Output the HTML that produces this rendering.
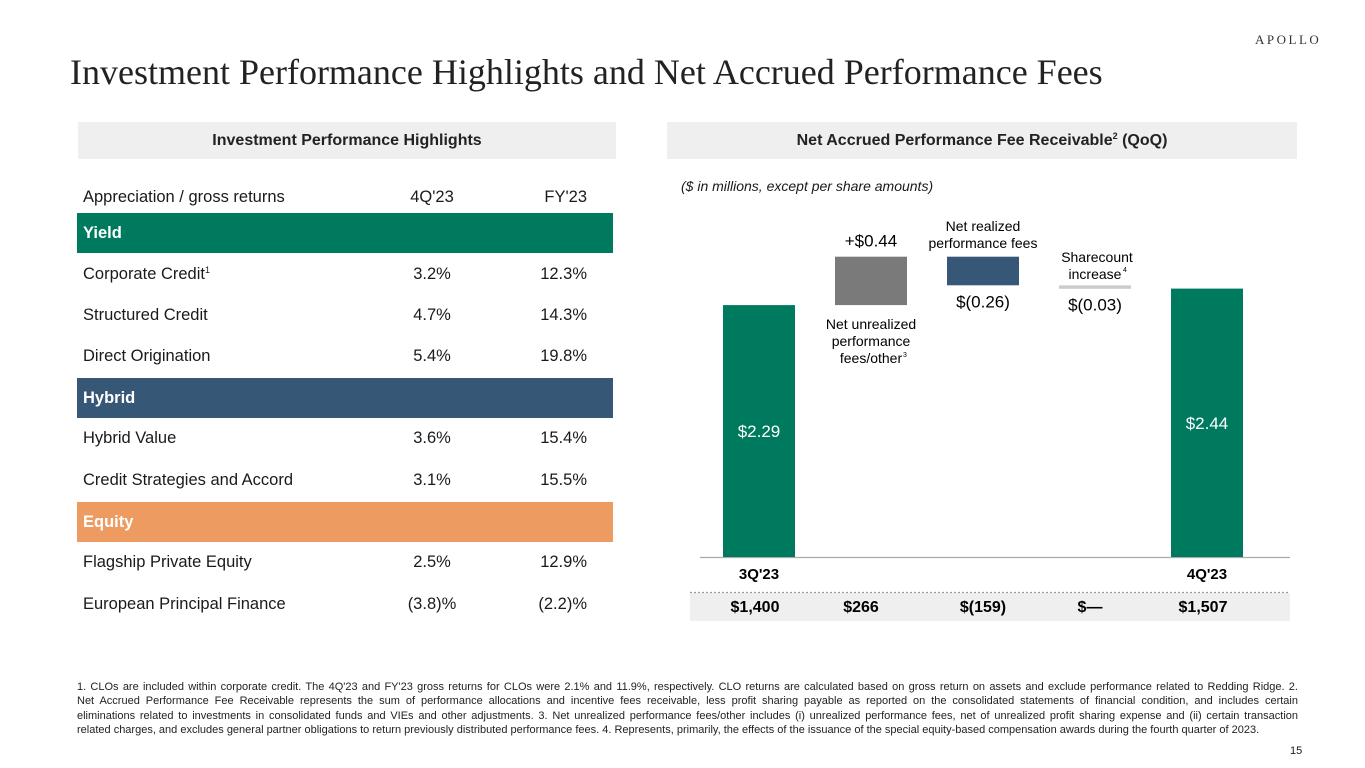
<!DOCTYPE html>
<html><head><meta charset="utf-8">
<style>
body{margin:0;background:#fff;}
#page{position:relative;width:1365px;height:768px;overflow:hidden;font-family:"Liberation Sans",Arial,sans-serif;color:#1a1a1a;}
.abs{position:absolute;}
.title{left:70px;top:51px;font-family:"Liberation Serif",serif;font-size:36px;color:#222;white-space:nowrap;}
.logo{left:1255px;top:32px;font-family:"Liberation Serif",serif;font-size:13px;letter-spacing:2.5px;color:#333;}
.hdr{top:122px;height:37px;background:#efefef;font-weight:bold;font-size:16px;line-height:37px;text-align:center;color:#222;}
.row{left:77px;width:536px;height:40px;font-size:16.5px;line-height:40px;}
.row span{position:absolute;}
.band{color:#fff;font-weight:bold;}
.c1{left:315px;width:80px;text-align:center;}
.c2{left:430px;width:80px;text-align:right;}
.lab{left:6px;}
sup{font-size:9px;vertical-align:top;position:relative;top:-4px;}
.foot{left:77px;top:680px;width:1221px;font-size:11px;line-height:14.3px;color:#222;}
.foot div{text-align:justify;text-align-last:justify;white-space:nowrap;}
.foot div.last{text-align-last:left;}
</style></head>
<body>
<div id="page">
<div class="abs title">Investment Performance Highlights and Net Accrued Performance Fees</div>
<div class="abs logo">APOLLO</div>

<div class="abs hdr" style="left:78px;width:538px;">Investment Performance Highlights</div>
<div class="abs hdr" style="left:667px;width:630px;">Net Accrued Performance Fee Receivable<sup>2</sup> (QoQ)</div>

<div class="abs row" style="top:177px;"><span class="lab">Appreciation / gross returns</span><span class="c1">4Q'23</span><span class="c2">FY'23</span></div>
<div class="abs row band" style="top:213px;background:#007a5e;"><span class="lab">Yield</span></div>
<div class="abs row" style="top:254px;"><span class="lab">Corporate Credit<sup>1</sup></span><span class="c1">3.2%</span><span class="c2">12.3%</span></div>
<div class="abs row" style="top:295px;"><span class="lab">Structured Credit</span><span class="c1">4.7%</span><span class="c2">14.3%</span></div>
<div class="abs row" style="top:336px;"><span class="lab">Direct Origination</span><span class="c1">5.4%</span><span class="c2">19.8%</span></div>
<div class="abs row band" style="top:378px;background:#365776;"><span class="lab">Hybrid</span></div>
<div class="abs row" style="top:418px;"><span class="lab">Hybrid Value</span><span class="c1">3.6%</span><span class="c2">15.4%</span></div>
<div class="abs row" style="top:460px;"><span class="lab">Credit Strategies and Accord</span><span class="c1">3.1%</span><span class="c2">15.5%</span></div>
<div class="abs row band" style="top:502px;background:#ee9b62;"><span class="lab">Equity</span></div>
<div class="abs row" style="top:542px;"><span class="lab">Flagship Private Equity</span><span class="c1">2.5%</span><span class="c2">12.9%</span></div>
<div class="abs row" style="top:584px;"><span class="lab">European Principal Finance</span><span class="c1">(3.8)%</span><span class="c2">(2.2)%</span></div>

<div class="abs" style="left:681px;top:178px;font-size:14px;font-style:italic;">($ in millions, except per share amounts)</div>

<svg class="abs" style="left:0;top:0;" width="1365" height="768" id="chart"></svg>

<div class="abs foot">
<div>1. CLOs are included within corporate credit. The 4Q'23 and FY'23 gross returns for CLOs were 2.1% and 11.9%, respectively. CLO returns are calculated based on gross return on assets and exclude performance related to Redding Ridge. 2.</div>
<div>Net Accrued Performance Fee Receivable represents the sum of performance allocations and incentive fees receivable, less profit sharing payable as reported on the consolidated statements of financial condition, and includes certain</div>
<div>eliminations related to investments in consolidated funds and VIEs and other adjustments. 3. Net unrealized performance fees/other includes (i) unrealized performance fees, net of unrealized profit sharing expense and (ii) certain transaction</div>
<div class="last">related charges, and excludes general partner obligations to return previously distributed performance fees. 4. Represents, primarily, the effects of the issuance of the special equity-based compensation awards during the fourth quarter of 2023.</div>
</div>
<div class="abs" style="left:1290px;top:745px;font-size:11px;">15</div>
</div>
<script>
const startValue = 2.29;
const deltas = [0.44, -0.26, -0.03];
const endValue = 2.44;
const deltaLabels = ["+$0.44", "$(0.26)", "$(0.03)"];
const endLabels = ["$2.29", "$2.44"];
const totals = ["$1,400", "$266", "$(159)", "$\u2014", "$1,507"];
const axisLabels = ["3Q'23", "4Q'23"];

const NS = "http://www.w3.org/2000/svg";
const svg = document.getElementById('chart');
const baseY = 557, pxPerUnit = 110, barW = 72, x0 = 723, step = 112;
function y(v){ return baseY - v * pxPerUnit; }
function xAt(i){ return x0 + i * step; }
function mk(tag, attrs, name){
  const e = document.createElementNS(NS, tag);
  for (const k in attrs) e.setAttribute(k, attrs[k]);
  
  
  svg.appendChild(e); return e;
}
function txt(x, yy, s, attrs, name){
  const t = mk('text', Object.assign({x:x, y:yy, 'text-anchor':'middle', 'font-family':'Liberation Sans, Arial, sans-serif'}, attrs), name);
  t.textContent = s; return t;
}
mk('rect', {x:690, y:593, width:600, height:28, fill:'#efefef'}, 'totals-band');
mk('line', {x1:690, x2:1290, y1:592.5, y2:592.5, stroke:'#999', 'stroke-dasharray':'2,2', 'stroke-width':1.2}, 'totals-divider');
mk('line', {x1:700, x2:1290, y1:baseY+0.5, y2:baseY+0.5, stroke:'#aaa', 'stroke-width':1.2}, 'baseline');
mk('rect', {x:xAt(0), y:y(startValue), width:barW, height:baseY - y(startValue), fill:'#007a5e'}, 'bar-3q23');
txt(xAt(0)+barW/2, y(startValue/2)+6, endLabels[0], {fill:'#fff', 'font-size':17}, 'bar-3q23-label');
const colors = ['#7a7a7a', '#365776', '#cccccc'];
let run = startValue;
deltas.forEach(function(d, i){
  const a = run, b = run + d;
  const top = y(Math.max(a, b)), bot = y(Math.min(a, b));
  const cx = xAt(i+1) + barW/2;
  if (i === 2) {
    mk('rect', {x:xAt(i+1), y:top, width:barW, height:Math.max(bot-top, 3.5), fill:colors[i]}, 'bar-sharecount');
  } else {
    mk('rect', {x:xAt(i+1), y:top, width:barW, height:bot-top, fill:colors[i]}, i===0 ? 'bar-unrealized' : 'bar-realized');
  }
  if (d > 0) txt(cx, top - 10, deltaLabels[i], {'font-size':17}, 'delta-label');
  else txt(cx, bot + 22, deltaLabels[i], {'font-size':17}, 'delta-label');
  run = b;
});
txt(xAt(1)+barW/2, 329, 'Net unrealized', {'font-size':14}, 'cat-unrealized');
txt(xAt(1)+barW/2, 346, 'performance', {'font-size':14}, 'cat-unrealized');
txt(xAt(1)+barW/2, 363, 'fees/other', {'font-size':14}, 'cat-unrealized');
txt(xAt(1)+barW/2+34, 357, '3', {'font-size':7}, 'footnote-mark');
txt(xAt(2)+barW/2, 231, 'Net realized', {'font-size':14}, 'cat-realized');
txt(xAt(2)+barW/2, 248, 'performance fees', {'font-size':14}, 'cat-realized');
txt(xAt(3)+barW/2+2, 262, 'Sharecount', {'font-size':14}, 'cat-sharecount');
txt(xAt(3)+barW/2, 279, 'increase', {'font-size':14}, 'cat-sharecount');
txt(xAt(3)+barW/2+30, 272, '4', {'font-size':7}, 'footnote-mark');
mk('rect', {x:xAt(4), y:y(endValue), width:barW, height:baseY - y(endValue), fill:'#007a5e'}, 'bar-4q23');
txt(xAt(4)+barW/2, y(endValue/2)+6, endLabels[1], {fill:'#fff', 'font-size':17}, 'bar-4q23-label');
txt(xAt(0)+barW/2, 579, axisLabels[0], {'font-size':15, 'font-weight':'bold'}, 'x-label-3q23');
txt(xAt(4)+barW/2, 579, axisLabels[1], {'font-size':15, 'font-weight':'bold'}, 'x-label-4q23');
const totalShift = [-4, -10, 0, -5, -4];
totals.forEach(function(s, i){
  txt(xAt(i)+barW/2 + totalShift[i], 612, s, {'font-size':16, 'font-weight':'bold'}, 'total-value');
});
</script>
</body></html>
